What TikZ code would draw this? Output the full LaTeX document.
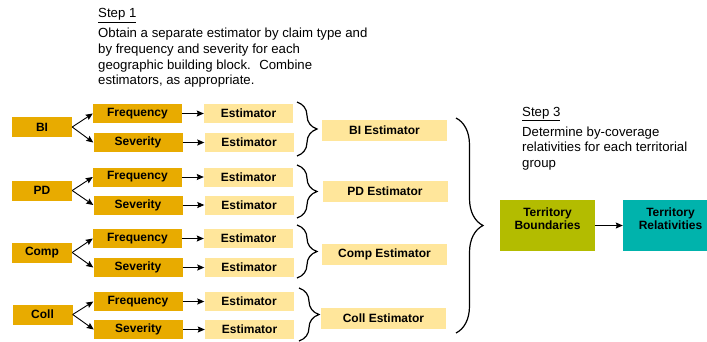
\documentclass[tikz,border=0pt]{standalone}
\usepackage{fontspec}
\setmainfont{Liberation Sans}
\usepackage{tikz}
\usetikzlibrary{arrows.meta, decorations.pathreplacing}
\definecolor{gold}{HTML}{E8AB00}
\definecolor{paleyellow}{HTML}{FFE69B}
\definecolor{olivegreen}{HTML}{B3BC00}
\definecolor{terrteal}{HTML}{00B3AC}
\newcommand{\boxfont}{\fontsize{12}{13.5}\selectfont\bfseries}
\tikzstyle{coverage} = [rectangle, minimum width=60pt, minimum height=20pt, text centered, fill=gold, font=\boxfont]
\tikzstyle{factor} = [rectangle, minimum width=89pt, minimum height=19pt, text centered, fill=gold, font=\boxfont]
\tikzstyle{estimator} = [rectangle, minimum width=89pt, minimum height=19pt, text centered, fill=paleyellow, font=\boxfont]
\tikzstyle{combined} = [rectangle, minimum width=125pt, minimum height=21pt, text centered, fill=paleyellow, font=\boxfont]
\tikzstyle{territory} = [rectangle, minimum width=95pt, minimum height=51pt, align=center, text depth=14pt, font=\boxfont]
\tikzstyle{steptext} = [anchor=north west, inner sep=0pt, align=left]
\tikzstyle{arrow} = [line width=0.9pt, -{Stealth[length=7pt, width=6pt, inset=1pt]}]
\tikzstyle{curly} = [decorate, line width=1.2pt]
\begin{document}
\begin{tikzpicture}[x=1pt, y=-1pt, node distance=111pt, font=\fontsize{13.2}{15.7}\selectfont]
        \useasboundingbox (0,0) rectangle (707,341);
        \clip (0,0) rectangle (707,341);

        \node (stepone) [steptext] at (98,8.3) {\underline{Step 1}\\[4.3pt]
            Obtain a separate estimator by claim type and\\
            by frequency and severity for each\\
            geographic building block.~ Combine\\
            estimators, as appropriate.};

        \node (bi) [coverage] at (42,127) {BI};
        \node (bifreq) [factor] at (137.5,113.5) {Frequency};
        \node (bisev) [factor] at (138,142.5) {Severity};
        \node (bifreqest) [estimator, right of=bifreq] {Estimator};
        \node (bisevest) [estimator, right of=bisev] {Estimator};
        \node (biest) [combined] at (384.5,130) {BI Estimator};

        \node (pd) [coverage] at (42,190.5) {PD};
        \node (pdfreq) [factor] at (137.5,177) {Frequency};
        \node (pdsev) [factor] at (138,205) {Severity};
        \node (pdfreqest) [estimator, right of=pdfreq] {Estimator};
        \node (pdsevest) [estimator, right of=pdsev] {Estimator};
        \node (pdest) [combined] at (385,191.5) {PD Estimator};

        \node (comp) [coverage] at (42,252.5) {Comp};
        \node (compfreq) [factor] at (137.5,238.5) {Frequency};
        \node (compsev) [factor] at (138,267.5) {Severity};
        \node (compfreqest) [estimator, right of=compfreq] {Estimator};
        \node (compsevest) [estimator, right of=compsev] {Estimator};
        \node (compest) [combined] at (384.5,254) {Comp Estimator};

        \node (coll) [coverage] at (42.5,314.5) {Coll};
        \node (collfreq) [factor] at (138,301.5) {Frequency};
        \node (collsev) [factor] at (138.5,329.5) {Severity};
        \node (collfreqest) [estimator, right of=collfreq] {Estimator};
        \node (collsevest) [estimator, right of=collsev] {Estimator};
        \node (collest) [combined] at (383.5,318) {Coll Estimator};

        \node (stepthree) [steptext] at (522,106.7) {\underline{Step 3}\\[4.3pt]
            Determine by-coverage\\
            relativities for each territorial\\
            group};

        \node (bounds) [territory, fill=olivegreen] at (547.5,225.5) {Territory\\Boundaries};
        \node (relats) [territory, fill=terrteal] at (670.5,225.5) {Territory\\Relativities};

        \draw [arrow] (bi.east) -- (bifreq.west);
        \draw [arrow] (bi.east) -- (bisev.west);
        \draw [arrow] (bifreq) -- (bifreqest);
        \draw [arrow] (bisev) -- (bisevest);
        \draw [arrow] (pd.east) -- (pdfreq.west);
        \draw [arrow] (pd.east) -- (pdsev.west);
        \draw [arrow] (pdfreq) -- (pdfreqest);
        \draw [arrow] (pdsev) -- (pdsevest);
        \draw [arrow] (comp.east) -- (compfreq.west);
        \draw [arrow] (comp.east) -- (compsev.west);
        \draw [arrow] (compfreq) -- (compfreqest);
        \draw [arrow] (compsev) -- (compsevest);
        \draw [arrow] (coll.east) -- (collfreq.west);
        \draw [arrow] (coll.east) -- (collsev.west);
        \draw [arrow] (collfreq) -- (collfreqest);
        \draw [arrow] (collsev) -- (collsevest);
        \draw [arrow] (bounds) -- (relats);

        % braces
        \draw [curly, decoration={brace, amplitude=20pt}] (297,102) -- (297,156);
        \draw [curly, decoration={brace, amplitude=20pt}] (297,165) -- (297,218);
        \draw [curly, decoration={brace, amplitude=20pt}] (297,225) -- (297,278);
        \draw [curly, decoration={brace, amplitude=20pt}] (299,288) -- (299,341);
        \draw [curly, decoration={brace, amplitude=27pt}] (456,118) -- (456,333);
    \end{tikzpicture}
\end{document}
